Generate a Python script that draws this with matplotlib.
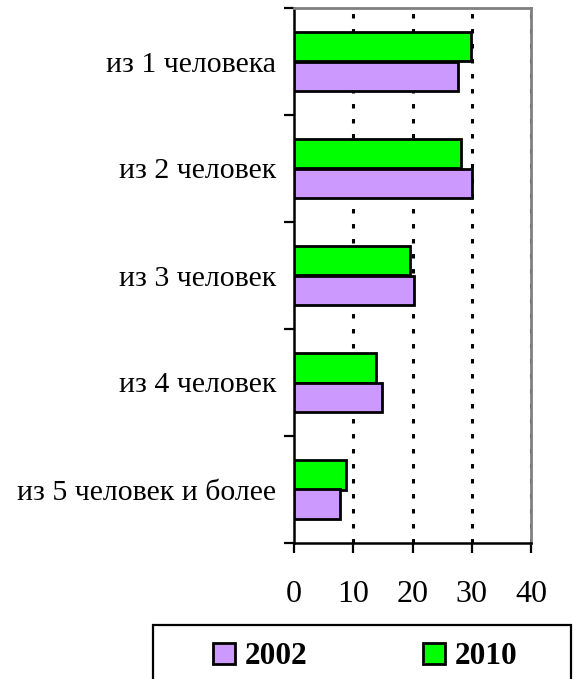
import numpy as np
import matplotlib
matplotlib.use("Agg")
import matplotlib.pyplot as plt
from matplotlib.patches import Rectangle, Patch

plt.rcParams['font.family'] = ['Liberation Serif', 'DejaVu Serif']
plt.rcParams['lines.scale_dashes'] = False

# данные
categories = ['из 1 человека', 'из 2 человек', 'из 3 человек',
              'из 4 человек', 'из 5 человек и более']
values_2002 = [27.6, 30.0, 20.3, 14.8, 7.7]
values_2010 = [29.8, 28.2, 19.5, 13.9, 8.8]
x_ticks = [0, 10, 20, 30, 40]

fig = plt.figure(figsize=(5.74, 6.79), dpi=100)
ax = fig.add_axes([294/574, 136/679, 237/574, 535/679])

y = np.arange(len(categories))
h = 0.28
ax.barh(y - h/2, values_2010, height=h, color='#00FF00',
        edgecolor='black', linewidth=2, zorder=3)
ax.barh(y + h/2, values_2002, height=h, color='#CC99FF',
        edgecolor='black', linewidth=2, zorder=3)

ax.set_xlim(0, 40)
ax.set_ylim(len(categories) - 0.5, -0.5)

# пунктирная сетка
for xv in x_ticks[1:]:
    ax.axvline(xv, color='black', linewidth=2.2,
               linestyle=(0, (3.2, 7.6)), zorder=1)

ax.set_xticks(x_ticks)
ax.set_xticklabels([str(v) for v in x_ticks], fontsize=23)
ax.tick_params(axis='x', direction='out', length=7, width=1.6, pad=20)

ax.set_yticks(y)
ax.set_yticklabels(categories, fontsize=21.5)
ax.set_yticks(np.arange(len(categories) + 1) - 0.5, minor=True)
ax.tick_params(axis='y', which='major', length=0, pad=13)
ax.tick_params(axis='y', which='minor', direction='out', length=7, width=1.6)

for s in ['left', 'bottom']:
    ax.spines[s].set_color('black')
    ax.spines[s].set_linewidth(1.8)
for s in ['top', 'right']:
    ax.spines[s].set_color('#808080')
    ax.spines[s].set_linewidth(2)

# легенда
fig.patches.append(Rectangle((153/574, -0.05), 418/574, (54/679) + 0.05,
                             transform=fig.transFigure, fill=False,
                             edgecolor='black', linewidth=1.6))
handles = [Patch(facecolor='#CC99FF', edgecolor='black', linewidth=2),
           Patch(facecolor='#00FF00', edgecolor='black', linewidth=2)]
fig.legend(handles, ['2002', '2010'], ncol=2, frameon=False,
           loc='center left', bbox_to_anchor=(213/574, 22/679),
           prop={'weight': 'bold', 'size': 22.5},
           handlelength=0.69, handleheight=0.69, handletextpad=0.33,
           columnspacing=3.7, borderpad=0, borderaxespad=0)

fig.savefig('out.png', dpi=100)
